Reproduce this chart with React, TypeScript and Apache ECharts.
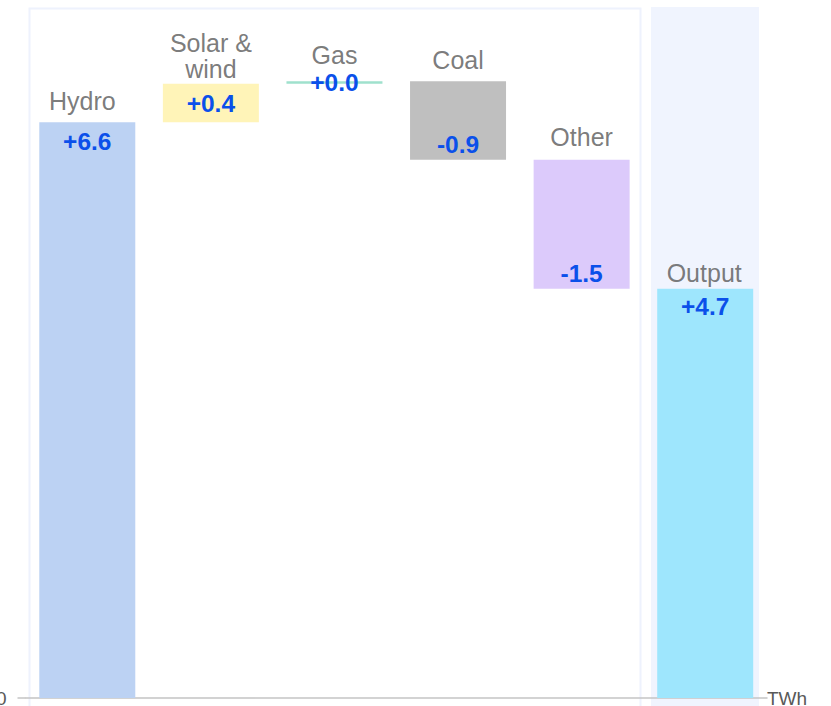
import React, { useEffect, useRef } from "react";
import * as echarts from "echarts";

const categories = ["Hydro", "Solar &\nwind", "Gas", "Coal", "Other", "Output"];
const deltas = [6.6, 0.44, 0.03, -0.9, -1.48];
const output = 4.69;
const yTickLabels = ["0"];
const unitLabel = "TWh";

const barColors = ["#bcd2f3", "#fff4b8", "#9fe1cd", "#bfbfbf", "#dccafb", "#9ee6fd"];
const nameLabelGaps = [8, 2, 13, 8, 10, 3];
const nameLabelShiftX = [-5, 0, 0, 0, 0, -1];
const valueLabelGapsTop = [7, 7, 0, 0, 0, 5];
const FONT = "'Liberation Sans', Arial, Helvetica, sans-serif";

export default function App() {
  const ref = useRef<HTMLDivElement>(null);

  useEffect(() => {
    document.body.style.margin = "0";
    if (!ref.current) return;
    const chart = echarts.init(ref.current, undefined, { renderer: "svg" });

    const bases: number[] = [];
    const heights: number[] = [];
    const signed: number[] = [];
    let run = 0;
    deltas.forEach((d) => {
      const start = run;
      const end = run + d;
      bases.push(Math.min(start, end));
      heights.push(Math.abs(d));
      signed.push(d);
      run = end;
    });
    bases.push(0);
    heights.push(output);
    signed.push(output);

    const fmt = (v: number) => (v >= 0 ? "+" : "") + v.toFixed(1);

    const visibleData = heights.map((h, i) => {
      const v = signed[i];
      const pos = Math.abs(v) < 0.1 ? "inside" : v >= 0 ? "insideTop" : "insideBottom";
      return {
        value: h,
        itemStyle: { color: barColors[i] },
        label: { position: pos, distance: pos === "insideBottom" ? 3 : valueLabelGapsTop[i] },
      };
    });

    const labelPoints = heights.map((h, i) => ({
      value: [i, bases[i] + h],
      label: { distance: nameLabelGaps[i], offset: [nameLabelShiftX[i], 0] },
    }));

    chart.setOption({
      animation: false,
      textStyle: { fontFamily: FONT },
      graphic: [
        {
          type: "rect",
          z: -10,
          silent: true,
          shape: { x: 29.5, y: 8.5, width: 611, height: 710 },
          style: { fill: "#ffffff", stroke: "#eef2fd", lineWidth: 2 },
        },
        {
          type: "rect",
          z: -10,
          silent: true,
          shape: { x: 651, y: 7, width: 108, height: 710 },
          style: { fill: "#f0f4fe" },
        },
      ],
      grid: { left: 25.5, right: 64, top: 0, bottom: 8, containLabel: false, outerBoundsMode: "none" },
      xAxis: {
        type: "category",
        data: categories,
        axisLine: { show: true, lineStyle: { color: "#c4c4c4", width: 1.5 } },
        axisTick: { show: false },
        axisLabel: { show: false },
        splitLine: { show: false },
        name: unitLabel,
        nameLocation: "end",
        nameGap: 0,
        nameTextStyle: { color: "#595959", fontSize: 19, fontFamily: FONT, align: "left", verticalAlign: "middle" },
      },
      yAxis: {
        type: "value",
        min: 0,
        max: 8,
        interval: 8,
        axisLine: { show: false },
        axisTick: { show: true, length: 8, lineStyle: { color: "#c4c4c4", width: 1.5 } },
        splitLine: { show: false },
        axisLabel: {
          showMaxLabel: false,
          margin: 19,
          color: "#595959",
          fontSize: 19,
          fontFamily: FONT,
          formatter: (v: number) => (v === 0 ? yTickLabels[0] : ""),
        },
      },
      series: [
        {
          type: "bar",
          stack: "wf",
          barWidth: 96,
          itemStyle: { color: "transparent" },
          data: bases,
          silent: true,
        },
        {
          type: "bar",
          stack: "wf",
          barWidth: 96,
          data: visibleData,
          label: {
            show: true,
            color: "#0b50ea",
            fontWeight: "bold",
            fontSize: 24.5,
            fontFamily: FONT,
            formatter: (p: any) => fmt(signed[p.dataIndex]),
          },
        },
        {
          type: "scatter",
          symbolSize: 0,
          data: labelPoints,
          silent: true,
          label: {
            show: true,
            position: "top",
            color: "#595959",
            fontSize: 25,
            lineHeight: 26,
            fontFamily: FONT,
            formatter: (p: any) => categories[p.dataIndex],
          },
        },
      ],
    });

    return () => chart.dispose();
  }, []);

  return <div ref={ref} style={{ width: 831, height: 706 }} />;
}
